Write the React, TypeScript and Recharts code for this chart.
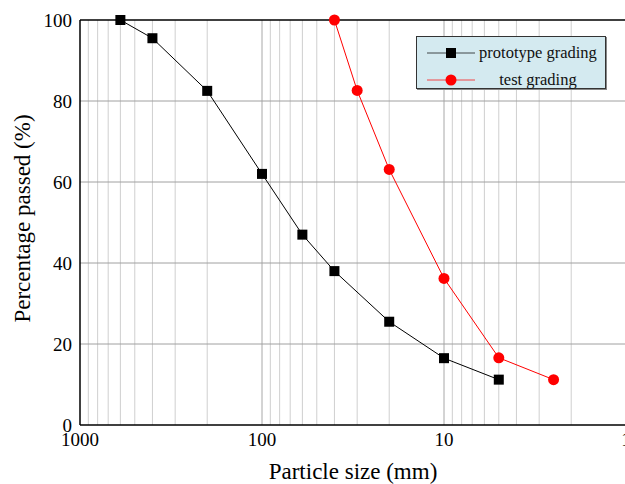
import React from "react";
import {
	CartesianGrid,
	Label,
	Line,
	LineChart,
	ReferenceLine,
	XAxis,
	YAxis,
} from "recharts";

const prototypeSize = [600, 400, 200, 100, 60, 40, 20, 10, 5];
const prototypePassed = [100, 95.5, 82.5, 62, 47, 38, 25.5, 16.5, 11.2];
const testSize = [40, 30, 20, 10, 5, 2.5];
const testPassed = [100, 82.6, 63.1, 36.2, 16.6, 11.2];

const decadeTicks = [1000, 100, 10, 1];
const minorTicks = [
	900, 800, 700, 600, 500, 400, 300, 200, 90, 80, 70, 60, 50, 40, 30, 20, 9, 8,
	7, 6, 5, 4, 3, 2,
];
const yTicks = [0, 20, 40, 60, 80, 100];
const yGrid = [20, 40, 60, 80];

const FONT = '"Liberation Serif", "Times New Roman", serif';

const prototypeData = prototypeSize.map((size, i) => ({
	size,
	passed: prototypePassed[i],
}));
const testData = testSize.map((size, i) => ({ size, passed: testPassed[i] }));

function SquareDot(props: any) {
	const { cx, cy } = props;
	if (cx == null || cy == null) return null;
	return <rect x={cx - 5} y={cy - 5} width={10} height={10} fill="#000" />;
}

function CircleDot(props: any) {
	const { cx, cy } = props;
	if (cx == null || cy == null) return null;
	return <circle cx={cx} cy={cy} r={5.5} fill="#ff0000" />;
}

function LegendBox() {
	const rows = [
		{ name: "prototype grading", color: "#000", marker: "square" },
		{ name: "test grading", color: "#ff0000", marker: "circle" },
	];
	return (
		<div
			style={{
				position: "absolute",
				left: 416,
				top: 36,
				background: "#d4eaf0",
				border: "1px solid #333",
				width: 190,
				height: 53,
				boxSizing: "border-box",
				boxShadow: "1px 1px 0 #888",
				fontFamily: FONT,
				fontSize: 16.5,
				color: "#111",
				padding: "2px 0 0 10px",
			}}>
			{rows.map((row) => (
				<div
					key={row.name}
					style={{ display: "flex", alignItems: "center", height: 27 }}>
					<svg width={48} height={14} style={{ flex: "none" }}>
						<line
							x1={0}
							x2={48}
							y1={7}
							y2={7}
							stroke={row.color}
							strokeOpacity={0.7}
						/>
						{row.marker === "square" ? (
							<rect x={19} y={2} width={10} height={10} fill="#000" />
						) : (
							<circle cx={24} cy={7} r={5.5} fill="#ff0000" />
						)}
					</svg>
					<span
						style={{
							width: 126,
							textAlign: "center",
							lineHeight: "18px",
							whiteSpace: "nowrap",
						}}>
						{row.name}
					</span>
				</div>
			))}
		</div>
	);
}

export default function App() {
	return (
		<div
			style={{
				position: "absolute",
				left: 0,
				top: 0,
				width: 625,
				height: 484,
				overflow: "hidden",
				background: "#fff",
			}}>
			<LineChart
				width={630}
				height={484}
				margin={{ top: 20, right: 4, left: 0, bottom: 0 }}>
				<CartesianGrid
					horizontal={false}
					stroke="#cfcfcf"
					verticalValues={[...minorTicks]}
				/>
				{decadeTicks.slice(1, 3).map((v) => (
					<ReferenceLine key={`dx${v}`} x={v} stroke="#a8a8a8" />
				))}
				{yGrid.map((v) => (
					<ReferenceLine key={`gy${v}`} y={v} stroke="#a0a0a0" />
				))}
				<ReferenceLine y={100} stroke="#000" strokeWidth={1.5} />
				<XAxis
					type="number"
					dataKey="size"
					scale="log"
					domain={[1, 1000]}
					reversed
					allowDataOverflow
					ticks={decadeTicks}
					interval={0}
					tickLine={false}
					axisLine={{ stroke: "#000", strokeWidth: 1.5 }}
					tick={{ fill: "#000", fontSize: 19, fontFamily: FONT }}
					tickMargin={2}
					height={59}>
					<Label
						value="Particle size (mm)"
						position="insideBottom"
						offset={5}
						style={{ fill: "#000", fontSize: 23, fontFamily: FONT }}
					/>
				</XAxis>
				<YAxis
					type="number"
					domain={[0, 100]}
					ticks={yTicks}
					interval={0}
					tickLine={false}
					axisLine={{ stroke: "#000", strokeWidth: 1.5 }}
					tick={{ fill: "#000", fontSize: 19, fontFamily: FONT }}
					width={80}>
					<Label
						value="Percentage passed (%)"
						angle={-90}
						position="center"
						dx={-18}
						dy={-4}
						style={{
							fill: "#000",
							fontSize: 23,
							fontFamily: FONT,
							textAnchor: "middle",
						}}
					/>
				</YAxis>
				<Line
					data={prototypeData}
					dataKey="passed"
					name="prototype grading"
					stroke="#000"
					strokeWidth={1}
					dot={<SquareDot />}
					activeDot={false}
					isAnimationActive={false}
				/>
				<Line
					data={testData}
					dataKey="passed"
					name="test grading"
					stroke="#ff0000"
					strokeWidth={1}
					dot={<CircleDot />}
					activeDot={false}
					isAnimationActive={false}
				/>
			</LineChart>
			<LegendBox />
		</div>
	);
}
